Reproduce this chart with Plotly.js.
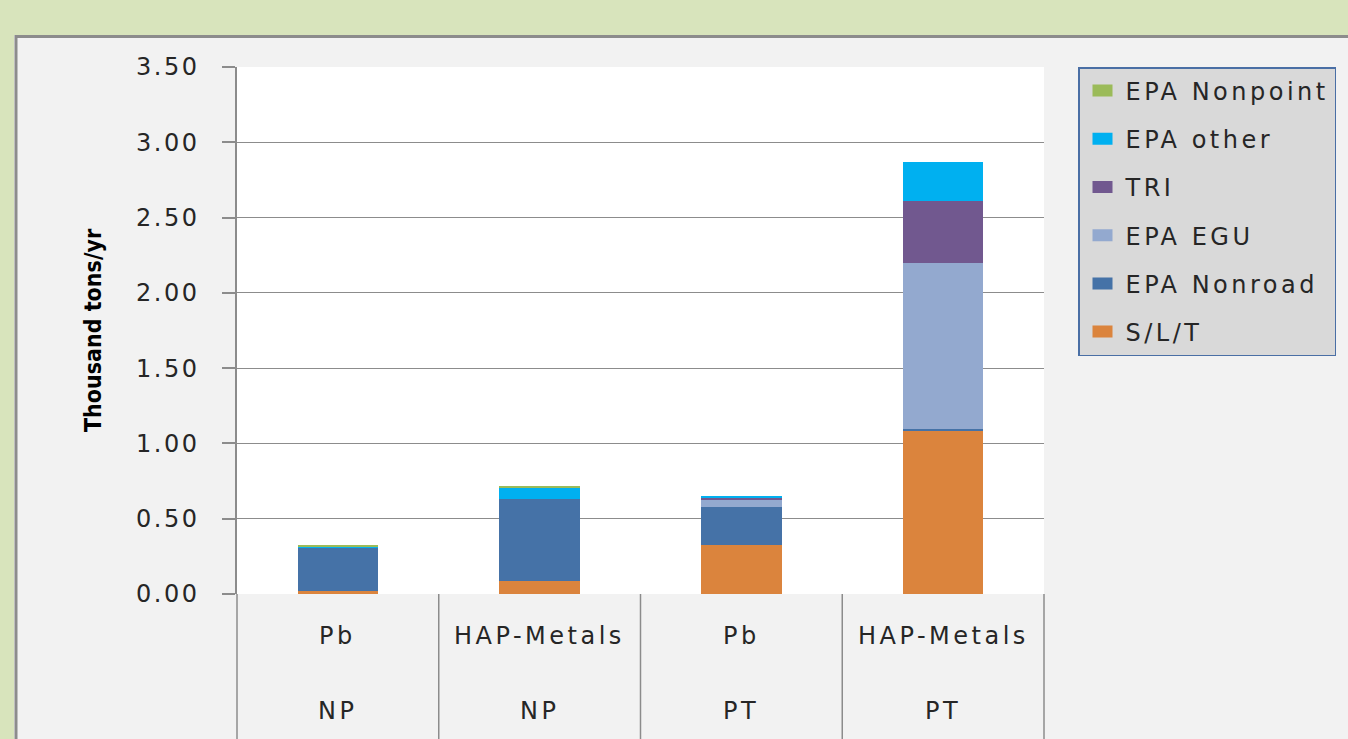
<!DOCTYPE html>
<html>
<head>
<meta charset="utf-8">
<script src="https://cdn.plot.ly/plotly-3.0.1.min.js"></script>
<style>
  html, body { margin: 0; padding: 0; background: #d8e4bc; }
  #chart { width: 1348px; height: 739px; }
  .ytick text { letter-spacing: 2.5px; }
  .legendtext { letter-spacing: 3.5px; }
  .annotation-text { letter-spacing: 3.5px; }
  .legendpoints path { d: path("M10,6H-10V-6H10Z") !important; }
</style>
</head>
<body>
<div id="chart"></div>
<script>
// ---- data ----
const pollutants = ['Pb', 'HAP-Metals', 'Pb', 'HAP-Metals'];
const sectors = ['NP', 'NP', 'PT', 'PT'];
const slt        = [0.020, 0.088, 0.325, 1.089];
const epaNonroad = [0.290, 0.543, 0.255, 0.010];
const epaEGU     = [0.000, 0.000, 0.044, 1.097];
const tri        = [0.000, 0.000, 0.018, 0.414];
const epaOther   = [0.008, 0.071, 0.009, 0.257];
const epaNonpt   = [0.005, 0.017, 0.000, 0.000];
const yTicks = [0, 0.5, 1, 1.5, 2, 2.5, 3, 3.5];

const categories = pollutants.map((p, i) => p + ' ' + sectors[i]);

const seriesNames = ['S/L/T', 'EPA Nonroad', 'EPA EGU', 'TRI', 'EPA other', 'EPA Nonpoint'];
const seriesValues = [slt, epaNonroad, epaEGU, tri, epaOther, epaNonpt];
const seriesColors = ['#DB843D', '#4572A7', '#93A9CF', '#71588F', '#00B0F0', '#9BBB59'];

const traces = seriesNames.map((name, i) => ({
  type: 'bar',
  name: name,
  x: categories,
  y: seriesValues[i],
  width: 0.4,
  legendgroup: name,
  legendrank: 1000 - i,
  marker: { color: seriesColors[i], line: { width: 0 } },
  hoverinfo: 'x+y+name'
}));

const FONT = 'DejaVu Sans';
const TXT = '#262626';
const GRID = '#8c8c8c';

// layout geometry (pixels -> paper)
const L = 237, R = 1044, T = 67, B = 594, W = 1348, H = 739;
const pw = R - L, ph = B - T;
const px = v => (v - L) / pw;
const py = v => (B - v) / ph;

const annotations = [];
categories.forEach((c, i) => {
  annotations.push({ x: c, xref: 'x', y: py(636), yref: 'paper', text: pollutants[i],
    showarrow: false, xanchor: 'center', yanchor: 'middle',
    font: { family: FONT, size: 24, color: TXT } });
  annotations.push({ x: c, xref: 'x', y: py(711), yref: 'paper', text: sectors[i],
    showarrow: false, xanchor: 'center', yanchor: 'middle',
    font: { family: FONT, size: 24, color: TXT } });
});

const shapes = [];
// category dividers below the plot
for (let k = 0; k <= categories.length; k++) {
  const xp = k / categories.length;
  shapes.push({ type: 'line', xref: 'paper', yref: 'paper', x0: xp, x1: xp,
    y0: 0, y1: py(H + 10), line: { color: GRID, width: 1.5 }, layer: 'above' });
}
// green outer frame
shapes.push({ type: 'rect', xref: 'paper', yref: 'paper', x0: px(-10), x1: px(W + 10),
  y0: py(35), y1: py(-10), fillcolor: '#d8e4bc', line: { width: 0 }, layer: 'above' });
shapes.push({ type: 'rect', xref: 'paper', yref: 'paper', x0: px(-10), x1: px(14),
  y0: py(H + 10), y1: py(35), fillcolor: '#d8e4bc', line: { width: 0 }, layer: 'above' });
// panel border
shapes.push({ type: 'line', xref: 'paper', yref: 'paper', x0: px(16), x1: px(W + 10),
  y0: py(36.5), y1: py(36.5), line: { color: '#8c8c8c', width: 3 }, layer: 'above' });
shapes.push({ type: 'line', xref: 'paper', yref: 'paper', x0: px(16), x1: px(16),
  y0: py(35), y1: py(H + 10), line: { color: '#8c8c8c', width: 3 }, layer: 'above' });

const layout = {
  width: W, height: H,
  paper_bgcolor: '#f2f2f2',
  plot_bgcolor: '#ffffff',
  margin: { l: L, r: W - R, t: T, b: H - B, pad: 0, autoexpand: false },
  barmode: 'stack',
  bargap: 0.6,
  showlegend: true,
  legend: {
    x: px(1078), xanchor: 'left', y: 1, yanchor: 'top',
    bgcolor: '#d9d9d9', bordercolor: '#4a6fa5', borderwidth: 1.5,
    font: { family: FONT, size: 24, color: TXT },
    traceorder: 'grouped', tracegroupgap: 14, itemwidth: 36,
    itemclick: false, itemdoubleclick: false
  },
  xaxis: {
    type: 'category', range: [-0.5, 3.5], showticklabels: false,
    showgrid: false, zeroline: false, showline: false, ticks: '', fixedrange: true
  },
  yaxis: {
    range: [0, 3.5], tickvals: yTicks, ticktext: yTicks.map(v => v.toFixed(2)),
    showgrid: true, gridcolor: GRID, gridwidth: 1,
    zeroline: false, showline: true, linecolor: GRID, linewidth: 1.5,
    ticks: 'outside', ticklen: 13, tickcolor: GRID, tickwidth: 1.5,
    ticklabelstandoff: 18,
    tickfont: { family: FONT, size: 24, color: TXT },
    title: { text: 'Thousand tons/yr', standoff: 28,
      font: { family: 'Liberation Sans Narrow, DejaVu Sans Condensed', size: 23, weight: 'bold', color: '#000' } },
    fixedrange: true
  },
  annotations: annotations,
  shapes: shapes,
  font: { family: FONT, color: TXT }
};

Plotly.newPlot('chart', traces, layout, { displayModeBar: false });
</script>
</body>
</html>
